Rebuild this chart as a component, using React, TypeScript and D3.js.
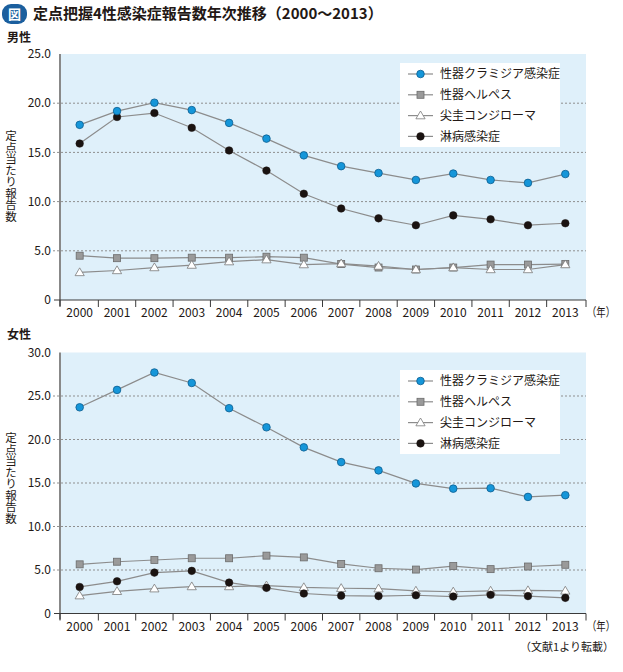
import React from "react";
import * as d3 from "d3";

const years = ["2000","2001","2002","2003","2004","2005","2006","2007","2008","2009","2010","2011","2012","2013"];
const seriesNames = ["性器クラミジア感染症", "性器ヘルペス", "尖圭コンジローマ", "淋病感染症"];

const maleChlamydia = [17.8, 19.2, 20.05, 19.3, 18.0, 16.4, 14.7, 13.6, 12.9, 12.2, 12.85, 12.2, 11.9, 12.8];
const maleHerpes = [4.5, 4.25, 4.25, 4.3, 4.3, 4.4, 4.3, 3.65, 3.3, 3.1, 3.3, 3.6, 3.6, 3.65];
const maleCondyloma = [2.8, 3.0, 3.3, 3.55, 3.9, 4.1, 3.6, 3.7, 3.45, 3.1, 3.3, 3.1, 3.1, 3.6];
const maleGonorrhea = [15.9, 18.6, 19.0, 17.5, 15.2, 13.15, 10.8, 9.3, 8.3, 7.6, 8.6, 8.2, 7.6, 7.8];

const femaleChlamydia = [23.7, 25.7, 27.7, 26.5, 23.6, 21.4, 19.1, 17.4, 16.45, 14.95, 14.35, 14.4, 13.4, 13.6];
const femaleHerpes = [5.65, 5.95, 6.15, 6.35, 6.35, 6.65, 6.45, 5.7, 5.2, 5.05, 5.45, 5.1, 5.4, 5.6];
const femaleCondyloma = [2.05, 2.55, 2.85, 3.1, 3.1, 3.2, 3.0, 2.9, 2.85, 2.6, 2.5, 2.6, 2.65, 2.6];
const femaleGonorrhea = [3.05, 3.7, 4.7, 4.9, 3.55, 2.95, 2.3, 2.05, 2.0, 2.1, 1.95, 2.15, 2.0, 1.8];

const maleTicks = [0, 5, 10, 15, 20, 25];
const femaleTicks = [0, 5, 10, 15, 20, 25, 30];

const FONT = "'Noto Sans CJK JP', 'Noto Sans', sans-serif";
const TEXT = "#231815";
const LINE = "#8c8c8c";
const BG = "#dff0fa";
const BLUE = "#1596d9";

const X0 = 61;
const X1 = 586;

type PanelProps = {
  title: string;
  titleY: number;
  top: number;
  bottom: number;
  maxV: number;
  ticks: number[];
  data: number[][];
  legendY: number;
  ylabelY: number;
};

function Marker({ kind, x, y }: { kind: number; x: number; y: number }) {
  if (kind === 0) return <circle cx={x} cy={y} r={3.8} fill={BLUE} stroke="#0b5d8f" strokeWidth={0.8} />;
  if (kind === 1) return <rect x={x - 3.5} y={y - 3.5} width={7} height={7} fill="#9a9a9a" stroke="#6b6b6b" strokeWidth={0.8} />;
  if (kind === 2) {
    const p = d3.path();
    p.moveTo(x, y - 4.6);
    p.lineTo(x + 4.6, y + 3.2);
    p.lineTo(x - 4.6, y + 3.2);
    p.closePath();
    return <path d={p.toString()} fill="#ffffff" stroke="#7a7a7a" strokeWidth={0.8} />;
  }
  return <circle cx={x} cy={y} r={3.8} fill="#1a1311" stroke="#1a1311" strokeWidth={0.5} />;
}

function Panel({ title, titleY, top, bottom, maxV, ticks, data, legendY, ylabelY }: PanelProps) {
  const x = d3.scaleBand<string>().domain(years).range([X0, X1 - 2]);
  const y = d3.scaleLinear().domain([0, maxV]).range([bottom, top]);
  const line = d3
    .line<number>()
    .x((_, i) => (x(years[i]) as number) + x.bandwidth() / 2)
    .y((v) => y(v));
  const order = [1, 2, 3, 0];
  return (
    <g>
      <text x={7} y={titleY} fontSize={12} fontWeight={700} fill={TEXT} fontFamily={FONT}>{title}</text>
      <rect x={X0} y={y(maxV)} width={X1 - X0} height={bottom - y(maxV)} fill={BG} />
      {ticks.filter((t) => t > 0 && t < maxV).map((t) => (
        <line key={t} x1={53} x2={X1} y1={y(t)} y2={y(t)} stroke="#8f8f8f" strokeWidth={1} strokeDasharray="2,2" />
      ))}
      {ticks.map((t) => (
        <text key={"l" + t} x={51} y={y(t)} dy="0.35em" textAnchor="end" fontSize={12} fill={TEXT} fontFamily={FONT}>
          {t === 0 ? "0" : t.toFixed(1)}
        </text>
      ))}
      <line x1={60} x2={60} y1={y(maxV)} y2={bottom + 6} stroke="#3a3a3a" strokeWidth={1.2} />
      <line x1={54} x2={X1} y1={bottom} y2={bottom} stroke="#3a3a3a" strokeWidth={1.2} />
      {years.map((yr, i) => (
        <line key={"t" + yr} x1={(x(yr) as number) + (i === 0 ? -1 : 0)} x2={(x(yr) as number) + (i === 0 ? -1 : 0)} y1={bottom} y2={bottom + 7} stroke="#3a3a3a" strokeWidth={1} />
      ))}
      <line x1={X1} x2={X1} y1={bottom} y2={bottom + 7} stroke="#3a3a3a" strokeWidth={1} />
      {years.map((yr) => (
        <text key={"x" + yr} x={(x(yr) as number) + x.bandwidth() / 2} y={bottom + 17} textAnchor="middle" fontSize={12} fill={TEXT} fontFamily={FONT}>{yr}</text>
      ))}
      <text x={587} y={bottom + 17} fontSize={12} fill={TEXT} fontFamily={FONT} textLength={28} lengthAdjust="spacingAndGlyphs">（年）</text>
      <text
        x={11}
        y={ylabelY}
        fontSize={11.5}
        fill={TEXT}
        fontFamily={FONT}
        style={{ writingMode: "vertical-rl", textOrientation: "upright" } as React.CSSProperties}
      >
        定点当たり報告数
      </text>
      {order.map((k) => (
        <path key={"p" + k} d={line(data[k]) || ""} fill="none" stroke={LINE} strokeWidth={1.2} />
      ))}
      {order.map((k) => (
        <g key={"m" + k}>
          {data[k].map((v, i) => (
            <Marker key={i} kind={k} x={(x(years[i]) as number) + x.bandwidth() / 2} y={y(v)} />
          ))}
        </g>
      ))}
      <rect x={400} y={legendY} width={160} height={84} fill="#ffffff" />
      {seriesNames.map((n, i) => (
        <g key={n}>
          <line x1={408} x2={433} y1={legendY + 11 + i * 20.8} y2={legendY + 11 + i * 20.8} stroke={LINE} strokeWidth={1.2} />
          <Marker kind={i} x={420.5} y={legendY + 11 + i * 20.8} />
          <text x={440} y={legendY + 11 + i * 20.8} dy="0.36em" fontSize={12} fill={TEXT} fontFamily={FONT}>{n}</text>
        </g>
      ))}
    </g>
  );
}

export default function App() {
  return (
    <svg width={623} height={672} style={{ display: "block", position: "absolute", left: 0, top: 0 }}>
      <rect x={0} y={0} width={623} height={672} fill="#ffffff" />
      <rect x={2} y={4} width={25} height={20} rx={9} fill="#1b5f9e" />
      <text x={14.5} y={14} dy="0.36em" textAnchor="middle" fontSize={13} fontWeight={700} fill="#ffffff" fontFamily={FONT}>図</text>
      <text x={33} y={14} dy="0.36em" fontSize={15} fontWeight={700} fill={TEXT} fontFamily={FONT}>定点把握4性感染症報告数年次推移（2000～2013）</text>
      <Panel
        title="男性"
        titleY={42}
        top={54}
        bottom={300}
        maxV={25}
        ticks={maleTicks}
        data={[maleChlamydia, maleHerpes, maleCondyloma, maleGonorrhea]}
        legendY={63}
        ylabelY={130}
      />
      <Panel
        title="女性"
        titleY={339}
        top={352.5}
        bottom={613.5}
        maxV={30}
        ticks={femaleTicks}
        data={[femaleChlamydia, femaleHerpes, femaleCondyloma, femaleGonorrhea]}
        legendY={370}
        ylabelY={432}
      />
      <text x={614} y={651} textAnchor="end" fontSize={11} fill={TEXT} fontFamily={FONT}>（文献1より転載）</text>
    </svg>
  );
}
